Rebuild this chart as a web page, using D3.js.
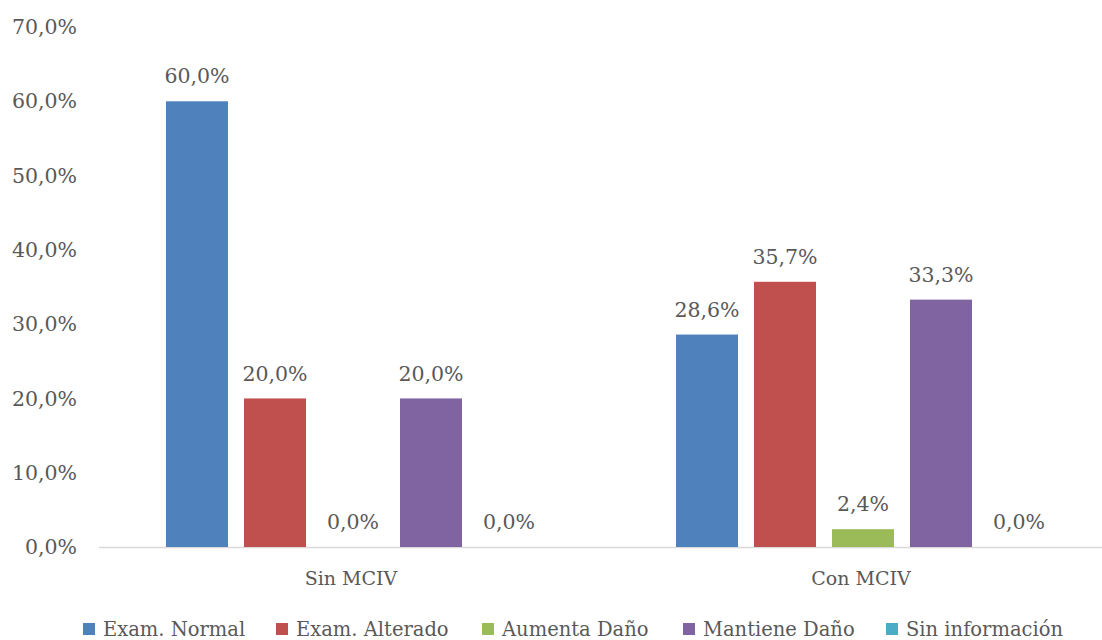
<!DOCTYPE html>
<html>
<head>
<meta charset="utf-8">
<script src="https://cdn.jsdelivr.net/npm/d3@7"></script>
<style>
  html, body { margin: 0; padding: 0; background: #ffffff; }
  svg text { font-family: "DejaVu Serif", "Liberation Serif", serif; fill: #595959; }
</style>
</head>
<body>
<svg id="chart" width="1102" height="640"></svg>
<script>
// Groups on the x axis
const categories = ["Sin MCIV", "Con MCIV"];
// Series names (legend order)
const seriesNames = ["Exam. Normal", "Exam. Alterado", "Aumenta Daño", "Mantiene Daño", "Sin información"];
const seriesColors = ["#4F81BD", "#C0504D", "#9BBB59", "#8064A2", "#4BACC6"];
// Percentages per series, one entry per category
const examNormal    = [60.0, 28.6];
const examAlterado  = [20.0, 35.7];
const aumentaDano   = [0.0, 2.4];
const mantieneDano  = [20.0, 33.3];
const sinInformacion = [0.0, 0.0];
const seriesValues = [examNormal, examAlterado, aumentaDano, mantieneDano, sinInformacion];
// Y axis ticks
const yTicks = [0, 10, 20, 30, 40, 50, 60, 70];

const fmt = v => v.toFixed(1).replace(".", ",") + "%";

const svg = d3.select("#chart");
const baseY = 547, topY = 27;
const plotLeft = 98, plotRight = 1118;
const numSize = "20.5px", textSize = "19px";

const y = d3.scaleLinear().domain([0, 70]).range([baseY, topY]);
const x0 = d3.scaleBand().domain(categories).range([plotLeft, plotRight]).padding(0);
const x1 = d3.scaleBand().domain(seriesNames)
  .range([68, x0.bandwidth() - 68]).paddingInner(16 / 78).paddingOuter(0);

// Y tick labels
svg.append("g").selectAll("text").data(yTicks).join("text")
  .attr("x", 77).attr("y", d => y(d)).attr("dy", "0.35em")
  .attr("text-anchor", "end").style("font-size", numSize)
  .text(d => fmt(d));

// Baseline
svg.append("line")
  .attr("x1", plotLeft + 1).attr("x2", 1102)
  .attr("y1", baseY + 0.5).attr("y2", baseY + 0.5)
  .attr("stroke", "#d9d9d9").attr("stroke-width", 1.5);

// Bars and value labels
const groups = svg.append("g").selectAll("g").data(categories).join("g")
  .attr("transform", c => `translate(${x0(c)},0)`);

groups.each(function(c, ci) {
  const g = d3.select(this);
  const rows = seriesNames.map((s, si) => ({ s, si, v: seriesValues[si][ci] }));
  g.selectAll("rect").data(rows.filter(r => r.v > 0)).join("rect")
    .attr("x", r => x1(r.s)).attr("width", x1.bandwidth())
    .attr("y", r => y(r.v)).attr("height", r => baseY - y(r.v))
    .attr("fill", r => seriesColors[r.si]);
  g.selectAll("text.val").data(rows).join("text").attr("class", "val")
    .attr("x", r => x1(r.s) + x1.bandwidth() / 2)
    .attr("y", r => y(r.v) - 25).attr("dy", "0.35em")
    .attr("text-anchor", "middle").style("font-size", numSize)
    .text(r => fmt(r.v));
});

// Category labels
svg.append("g").selectAll("text").data(categories).join("text")
  .attr("x", c => x0(c) + x0.bandwidth() / 2 - 2).attr("y", 578).attr("dy", "0.35em")
  .attr("text-anchor", "middle").style("font-size", textSize)
  .text(c => c);

// Legend
const legendX = [83, 276, 482, 683, 886];
const leg = svg.append("g").selectAll("g").data(seriesNames).join("g")
  .attr("transform", (d, i) => `translate(${legendX[i]},629)`);
leg.append("rect").attr("x", 0).attr("y", -6).attr("width", 12).attr("height", 12)
  .attr("fill", (d, i) => seriesColors[i]);
leg.append("text").attr("x", 20).attr("y", 0).attr("dy", "0.35em")
  .style("font-size", "19.5px").text(d => d);
</script>
</body>
</html>
